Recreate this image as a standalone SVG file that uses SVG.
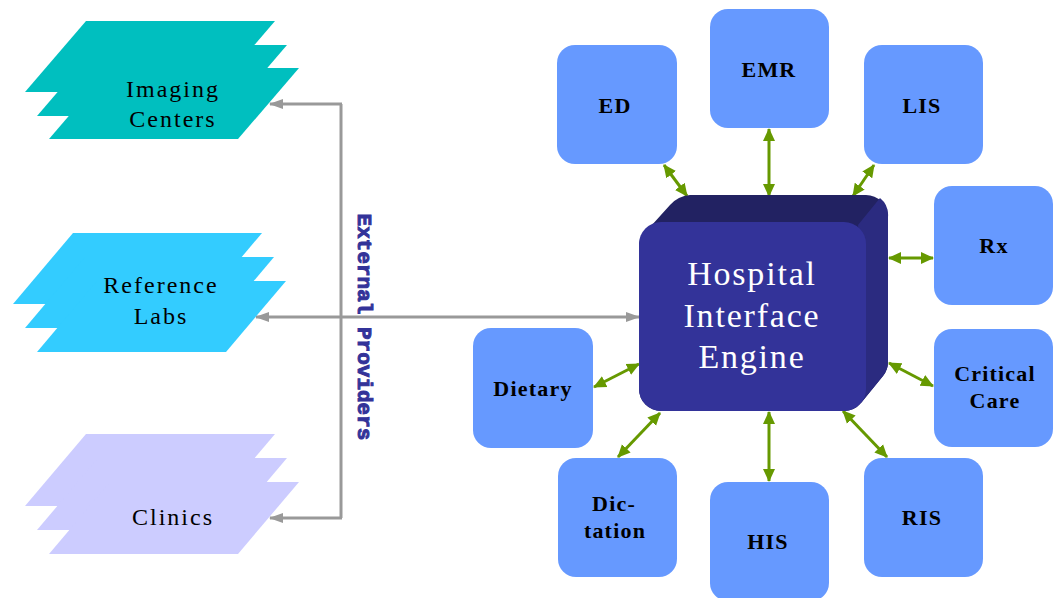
<svg xmlns="http://www.w3.org/2000/svg" width="1057" height="598" viewBox="0 0 1057 598">
<style>
.box{fill:#6699FF}
.lbl{font-family:"Liberation Serif","Times New Roman",serif;font-size:22px;font-weight:bold;fill:#000;text-anchor:middle;letter-spacing:1.2px}
.ext{font-family:"Liberation Serif","Times New Roman",serif;font-size:24px;fill:#000;text-anchor:middle;letter-spacing:2px}
.eng{font-family:"Liberation Serif","Times New Roman",serif;font-size:34px;fill:#fff;text-anchor:middle;letter-spacing:1.8px}
.vt{font-family:"Liberation Mono","Courier New",monospace;font-size:21px;font-weight:bold;fill:#333399;stroke:#333399;stroke-width:1;text-anchor:middle}
.g{stroke:#999999;stroke-width:3;fill:none}
.gr{stroke:#669900;stroke-width:3;fill:none;marker-start:url(#ga);marker-end:url(#ga)}
</style>
<defs>
<marker id="ga" markerUnits="userSpaceOnUse" markerWidth="13" markerHeight="14" viewBox="0 0 13 14" refX="12" refY="7" orient="auto-start-reverse">
<path d="M0,1 L13,7 L0,13 Z" fill="#669900"/>
</marker>
<marker id="gy" markerUnits="userSpaceOnUse" markerWidth="14" markerHeight="12" viewBox="0 0 14 12" refX="13" refY="6" orient="auto">
<path d="M0,1 L14,6 L0,11 Z" fill="#999999"/>
</marker>
</defs>
<rect width="1057" height="598" fill="#fff"/>

<g id="connectors">
<path class="g" d="M341,104 L341,518"/>
<path class="g" d="M342,104 L270,104" marker-end="url(#gy)"/>
<path class="g" d="M342,518 L270,518" marker-end="url(#gy)"/>
<path class="g" d="M341,317 L256,317" marker-end="url(#gy)"/>
<path class="g" d="M341,317 L639,317" marker-end="url(#gy)"/>
<path class="gr" d="M664,165 L687,196"/>
<path class="gr" d="M769,129 L769,196"/>
<path class="gr" d="M874,165 L853,196"/>
<path class="gr" d="M889,258 L933,258"/>
<path class="gr" d="M889,363 L933,386"/>
<path class="gr" d="M843,411 L887,457"/>
<path class="gr" d="M769,412 L769,481"/>
<path class="gr" d="M660,413 L618,457"/>
<path class="gr" d="M594,387 L639,364"/>
</g>

<g id="ext-label">
<text class="vt" transform="translate(358,327) rotate(90)">External Providers</text>
</g>

<g id="imaging">
<polygon points="86,21 275,21 214,92 25,92" fill="#00BFBF"/>
<polygon points="98,45 287,45 226,116 37,116" fill="#00BFBF"/>
<polygon points="110,68 299,68 238,139 49,139" fill="#00BFBF"/>
<text class="ext" x="173" y="97">Imaging</text>
<text class="ext" x="173" y="127">Centers</text>
</g>

<g id="reflabs">
<polygon points="73,233 262,233 202,304 13,304" fill="#33CCFF"/>
<polygon points="85,257 274,257 214,328 25,328" fill="#33CCFF"/>
<polygon points="97,281 286,281 226,352 37,352" fill="#33CCFF"/>
<text class="ext" x="161" y="293">Reference</text>
<text class="ext" x="161" y="324">Labs</text>
</g>

<g id="clinics">
<polygon points="86,434 275,434 214,506 25,506" fill="#CCCCFF"/>
<polygon points="98,458 287,458 226,530 37,530" fill="#CCCCFF"/>
<polygon points="110,482 299,482 238,554 49,554" fill="#CCCCFF"/>
<text class="ext" x="173" y="525">Clinics</text>
</g>

<g id="engine">
<path d="M642,236 L670,205 A30,30 0 0 1 690,195 L866,195 A22,22 0 0 1 888,217 L888,362 A22,22 0 0 1 883,376 L861,403 A22,22 0 0 1 844,411 L661,411 A22,22 0 0 1 639,389 L639,244 A22,22 0 0 1 642,236 Z" fill="#222262"/>
<path d="M858,225 L880,198 A22,22 0 0 1 888,217 L888,362 A22,22 0 0 1 883,376 L861,403 L866,380 Z" fill="#2b2b80"/>
<rect x="639" y="222" width="227" height="189" rx="22" fill="#333399"/>
<text class="eng" x="752" y="285">Hospital</text>
<text class="eng" x="752" y="327">Interface</text>
<text class="eng" x="752" y="368">Engine</text>
</g>

<g id="ed"><rect class="box" x="557" y="45" width="120" height="119" rx="18"/><text class="lbl" x="615" y="113">ED</text></g>
<g id="emr"><rect class="box" x="710" y="9" width="119" height="119" rx="18"/><text class="lbl" x="769" y="77">EMR</text></g>
<g id="lis"><rect class="box" x="864" y="45" width="119" height="119" rx="18"/><text class="lbl" x="922" y="113">LIS</text></g>
<g id="rx"><rect class="box" x="934" y="186" width="119" height="119" rx="18"/><text class="lbl" x="994" y="253">Rx</text></g>
<g id="critical"><rect class="box" x="934" y="329" width="119" height="118" rx="18"/><text class="lbl" x="995" y="381">Critical</text><text class="lbl" x="995" y="408">Care</text></g>
<g id="ris"><rect class="box" x="864" y="458" width="119" height="119" rx="18"/><text class="lbl" x="922" y="525">RIS</text></g>
<g id="his"><rect class="box" x="710" y="482" width="119" height="119" rx="18"/><text class="lbl" x="768" y="549">HIS</text></g>
<g id="dictation"><rect class="box" x="558" y="458" width="119" height="119" rx="18"/><text class="lbl" x="614" y="511">Dic-</text><text class="lbl" x="615" y="538">tation</text></g>
<g id="dietary"><rect class="box" x="473" y="328" width="120" height="120" rx="18"/><text class="lbl" x="533" y="396">Dietary</text></g>
</svg>
